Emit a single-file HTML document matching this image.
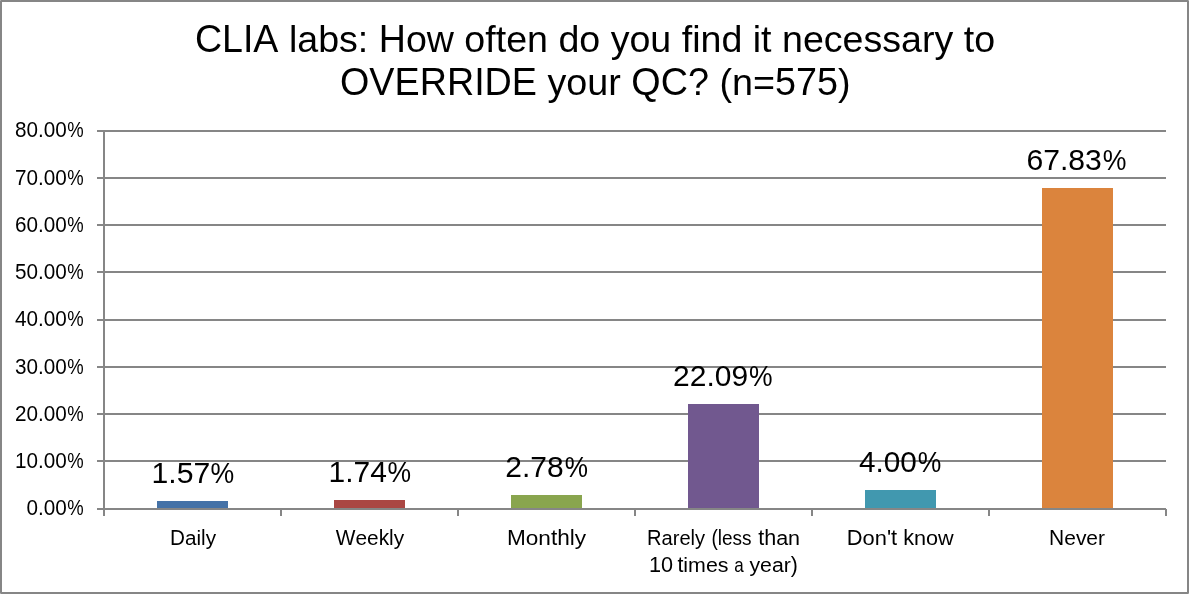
<!DOCTYPE html>
<html><head><meta charset="utf-8"><title>chart</title>
<style>
html,body{margin:0;padding:0;background:#fff;overflow:hidden;}
svg{display:block;}
text{font-family:"Liberation Sans",sans-serif;fill:#000;text-anchor:middle;font-kerning:none;}
</style></head><body>
<svg width="1189" height="594" viewBox="0 0 1189 594">
<rect x="0" y="0" width="1189" height="594" fill="#fff"/>
<g shape-rendering="crispEdges" fill="#868686">
<rect x="0" y="0" width="1189" height="2"/><rect x="0" y="592" width="1189" height="2"/><rect x="0" y="0" width="2" height="594"/><rect x="1187" y="0" width="2" height="594"/>
<g fill="#ababab"><rect x="0" y="0" width="1" height="1"/><rect x="1188" y="0" width="1" height="1"/><rect x="0" y="593" width="1" height="1"/><rect x="1188" y="593" width="1" height="1"/></g>
<rect x="97" y="130" width="1069" height="2"/>
<rect x="97" y="177" width="1069" height="2"/>
<rect x="97" y="224" width="1069" height="2"/>
<rect x="97" y="271" width="1069" height="2"/>
<rect x="97" y="319" width="1069" height="2"/>
<rect x="97" y="366" width="1069" height="2"/>
<rect x="97" y="413" width="1069" height="2"/>
<rect x="97" y="460" width="1069" height="2"/>
</g>
<g shape-rendering="crispEdges">
<rect x="157" y="501" width="71" height="8" fill="#4572A7"/>
<rect x="334" y="500" width="71" height="9" fill="#AA4643"/>
<rect x="511" y="495" width="71" height="14" fill="#89A54E"/>
<rect x="688" y="404" width="71" height="105" fill="#71588F"/>
<rect x="865" y="490" width="71" height="19" fill="#4198AF"/>
<rect x="1042" y="188" width="71" height="321" fill="#DB843D"/>
</g>
<g shape-rendering="crispEdges" fill="#868686">
<rect x="97" y="508" width="1069" height="2"/>
<rect x="103" y="130" width="2" height="386"/>
<rect x="280" y="509" width="2" height="7"/>
<rect x="457" y="509" width="2" height="7"/>
<rect x="634" y="509" width="2" height="7"/>
<rect x="811" y="509" width="2" height="7"/>
<rect x="988" y="509" width="2" height="7"/>
<rect x="1165" y="509" width="2" height="7"/>
</g>
<g style="filter:grayscale(1)">
<text transform="translate(40.88 137.15) scale(0.9550 1)" font-size="21.7">80.00</text>
<text transform="translate(75.50 137.15) scale(0.8508 1)" font-size="21.7">%</text>
<text transform="translate(40.88 185.15) scale(0.9550 1)" font-size="21.7">70.00</text>
<text transform="translate(75.50 185.15) scale(0.8508 1)" font-size="21.7">%</text>
<text transform="translate(40.88 232.15) scale(0.9550 1)" font-size="21.7">60.00</text>
<text transform="translate(75.50 232.15) scale(0.8508 1)" font-size="21.7">%</text>
<text transform="translate(40.88 279.15) scale(0.9550 1)" font-size="21.7">50.00</text>
<text transform="translate(75.50 279.15) scale(0.8508 1)" font-size="21.7">%</text>
<text transform="translate(40.88 326.15) scale(0.9550 1)" font-size="21.7">40.00</text>
<text transform="translate(75.50 326.15) scale(0.8508 1)" font-size="21.7">%</text>
<text transform="translate(40.88 374.15) scale(0.9550 1)" font-size="21.7">30.00</text>
<text transform="translate(75.50 374.15) scale(0.8508 1)" font-size="21.7">%</text>
<text transform="translate(40.88 421.15) scale(0.9550 1)" font-size="21.7">20.00</text>
<text transform="translate(75.50 421.15) scale(0.8508 1)" font-size="21.7">%</text>
<text transform="translate(40.88 468.15) scale(0.9550 1)" font-size="21.7">10.00</text>
<text transform="translate(75.50 468.15) scale(0.8508 1)" font-size="21.7">%</text>
<text transform="translate(46.64 515.15) scale(0.9550 1)" font-size="21.7">0.00</text>
<text transform="translate(75.50 515.15) scale(0.8508 1)" font-size="21.7">%</text>
<text transform="translate(180.86 483.10) scale(1.0056 1)" font-size="30.0">1.57</text>
<text transform="translate(222.30 483.10) scale(0.8885 1)" font-size="30.0">%</text>
<text transform="translate(357.70 482.10) scale(0.9996 1)" font-size="30.0">1.74</text>
<text transform="translate(399.35 482.10) scale(0.8844 1)" font-size="30.0">%</text>
<text transform="translate(534.40 477.10) scale(1.0004 1)" font-size="30.0">2.78</text>
<text transform="translate(576.30 477.10) scale(0.8722 1)" font-size="30.0">%</text>
<text transform="translate(710.61 386.10) scale(0.9994 1)" font-size="30.0">22.09</text>
<text transform="translate(760.85 386.10) scale(0.8844 1)" font-size="30.0">%</text>
<text transform="translate(887.94 472.10) scale(0.9907 1)" font-size="30.0">4.00</text>
<text transform="translate(929.55 472.10) scale(0.8844 1)" font-size="30.0">%</text>
<text transform="translate(1064.10 170.10) scale(1.0051 1)" font-size="30.0">67.83</text>
<text transform="translate(1114.50 170.10) scale(0.8885 1)" font-size="30.0">%</text>
<text style="text-anchor:start" transform="translate(170.00 544.50) scale(0.9725 1.0)" font-size="21.3">D</text>
<text style="text-anchor:start" transform="translate(184.96 544.50) scale(0.9725 0.935)" font-size="21.3">ai</text>
<text style="text-anchor:start" transform="translate(201.08 544.50) scale(0.9725 1.0)" font-size="21.3">l</text>
<text style="text-anchor:start" transform="translate(205.68 544.50) scale(0.9725 0.935)" font-size="21.3">y</text>
<text style="text-anchor:start" transform="translate(335.71 544.50) scale(0.9800 1.0)" font-size="21.3">W</text>
<text style="text-anchor:start" transform="translate(355.41 544.50) scale(0.9800 0.935)" font-size="21.3">ee</text>
<text style="text-anchor:start" transform="translate(378.63 544.50) scale(0.9800 1.0)" font-size="21.3">kl</text>
<text style="text-anchor:start" transform="translate(393.70 544.50) scale(0.9800 0.935)" font-size="21.3">y</text>
<text style="text-anchor:start" transform="translate(506.94 544.50) scale(1.0619 1.0)" font-size="21.3">M</text>
<text style="text-anchor:start" transform="translate(525.79 544.50) scale(1.0619 0.935)" font-size="21.3">on</text>
<text style="text-anchor:start" transform="translate(550.95 544.50) scale(1.0619 1.0)" font-size="21.3">thl</text>
<text style="text-anchor:start" transform="translate(574.83 544.50) scale(1.0619 0.935)" font-size="21.3">y</text>
<text style="text-anchor:start" transform="translate(646.95 544.50) scale(0.9454 1.0)" font-size="21.3">R</text>
<text style="text-anchor:start" transform="translate(661.49 544.50) scale(0.9454 0.935)" font-size="21.3">are</text>
<text style="text-anchor:start" transform="translate(690.60 544.50) scale(0.9454 1.0)" font-size="21.3">l</text>
<text style="text-anchor:start" transform="translate(695.07 544.50) scale(0.9454 0.935)" font-size="21.3">y</text>
<text style="text-anchor:start" transform="translate(711.42 544.50) scale(0.8932 1.0)" font-size="21.3">(l</text>
<text style="text-anchor:start" transform="translate(721.98 544.50) scale(0.8932 0.935)" font-size="21.3">ess</text>
<text style="text-anchor:start" transform="translate(758.17 544.50) scale(1.0113 1.0)" font-size="21.3">th</text>
<text style="text-anchor:start" transform="translate(776.14 544.50) scale(1.0113 0.935)" font-size="21.3">an</text>
<text style="text-anchor:start" transform="translate(648.95 572.30) scale(1.0171 1.0)" font-size="21.3">10</text>
<text style="text-anchor:start" transform="translate(677.38 572.30) scale(1.0041 1.0)" font-size="21.3">t</text>
<text style="text-anchor:start" transform="translate(683.32 572.30) scale(1.0041 0.935)" font-size="21.3">imes</text>
<text style="text-anchor:start" transform="translate(734.33 572.30) scale(0.7997 0.935)" font-size="21.3">a</text>
<text style="text-anchor:start" transform="translate(749.45 572.30) scale(0.9988 0.935)" font-size="21.3">year</text>
<text style="text-anchor:start" transform="translate(790.83 572.30) scale(0.9988 1.0)" font-size="21.3">)</text>
<text style="text-anchor:start" transform="translate(846.81 544.50) scale(1.0264 1.0)" font-size="21.3">D</text>
<text style="text-anchor:start" transform="translate(862.59 544.50) scale(1.0264 0.935)" font-size="21.3">on</text>
<text style="text-anchor:start" transform="translate(886.91 544.50) scale(1.0264 1.0)" font-size="21.3">'t</text>
<text style="text-anchor:start" transform="translate(903.14 544.50) scale(1.0178 1.0)" font-size="21.3">k</text>
<text style="text-anchor:start" transform="translate(913.98 544.50) scale(1.0178 0.935)" font-size="21.3">now</text>
<text style="text-anchor:start" transform="translate(1049.08 544.50) scale(0.9851 1.0)" font-size="21.3">N</text>
<text style="text-anchor:start" transform="translate(1064.23 544.50) scale(0.9851 0.935)" font-size="21.3">ever</text>
<text style="text-anchor:start" transform="translate(194.89 51.60) scale(0.9970 1.04)" font-size="37.7">CLIA</text>
<text style="text-anchor:start" transform="translate(288.89 51.60) scale(0.9970 0.985)" font-size="37.7">labs:</text>
<text style="text-anchor:start" transform="translate(378.73 51.60) scale(0.9970 1.04)" font-size="37.7">H</text>
<text style="text-anchor:start" transform="translate(405.88 51.60) scale(0.9970 0.985)" font-size="37.7">ow</text>
<text style="text-anchor:start" transform="translate(464.37 51.60) scale(0.9970 0.985)" font-size="37.7">often</text>
<text style="text-anchor:start" transform="translate(558.41 51.60) scale(0.9970 0.985)" font-size="37.7">do</text>
<text style="text-anchor:start" transform="translate(610.66 51.60) scale(0.9970 0.985)" font-size="37.7">you</text>
<text style="text-anchor:start" transform="translate(681.70 51.60) scale(0.9970 0.985)" font-size="37.7">find</text>
<text style="text-anchor:start" transform="translate(752.75 51.60) scale(0.9970 0.985)" font-size="37.7">it</text>
<text style="text-anchor:start" transform="translate(781.98 51.60) scale(0.9970 0.985)" font-size="37.7">necessary</text>
<text style="text-anchor:start" transform="translate(963.73 51.60) scale(0.9970 0.985)" font-size="37.7">to</text>
<text style="text-anchor:start" transform="translate(340.01 94.50) scale(1.0005 1.04)" font-size="37.7">OVERRIDE</text>
<text style="text-anchor:start" transform="translate(547.50 94.50) scale(1.0005 0.985)" font-size="37.7">your</text>
<text style="text-anchor:start" transform="translate(631.35 94.50) scale(1.0005 1.04)" font-size="37.7">QC?</text>
<text style="text-anchor:start" transform="translate(719.38 94.50) scale(1.0005 0.985)" font-size="37.7">(n=</text>
<text style="text-anchor:start" transform="translate(774.95 94.50) scale(1.0005 1.04)" font-size="37.7">575</text>
<text style="text-anchor:start" transform="translate(837.88 94.50) scale(1.0005 0.985)" font-size="37.7">)</text>
</g>
</svg>
</body></html>
